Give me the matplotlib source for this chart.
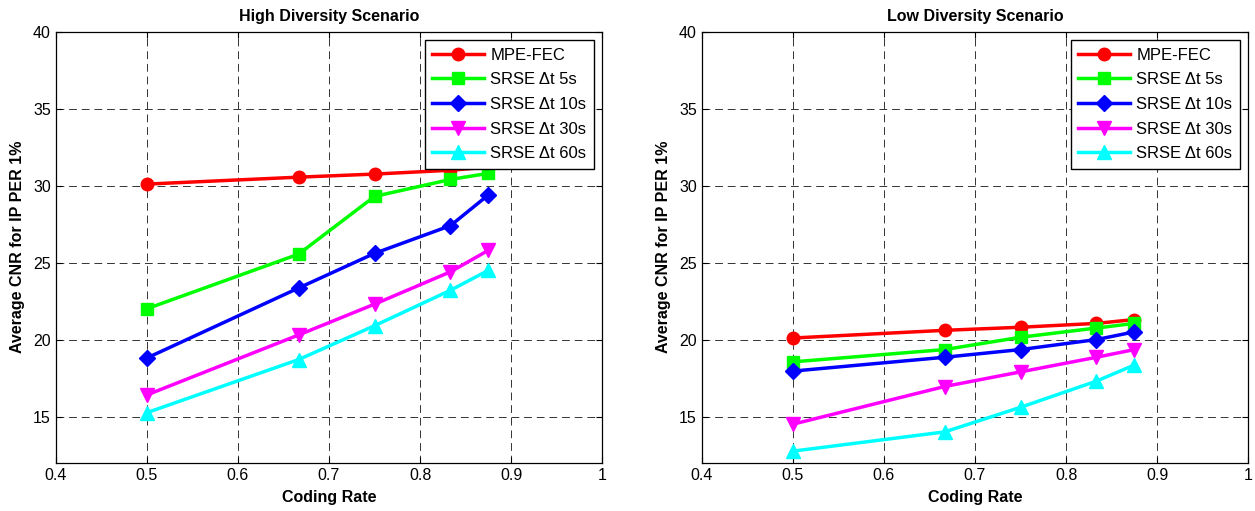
import matplotlib
matplotlib.use('Agg')
import numpy as np
import matplotlib.pyplot as plt

plt.rcParams['font.family'] = ['Liberation Sans', 'DejaVu Sans']

# coding rates
coding_rate = [0.5, 2/3, 0.75, 5/6, 0.875]

series_names = ["MPE-FEC", "SRSE \u0394t 5s", "SRSE \u0394t 10s", "SRSE \u0394t 30s", "SRSE \u0394t 60s"]

# High diversity scenario
high_mpe = [30.1, 30.55, 30.75, 31.0, 31.2]
high_5s = [22.0, 25.55, 29.3, 30.4, 30.8]
high_10s = [18.8, 23.35, 25.6, 27.4, 29.4]
high_30s = [16.4, 20.3, 22.3, 24.4, 25.8]
high_60s = [15.25, 18.7, 20.9, 23.2, 24.5]

# Low diversity scenario
low_mpe = [20.1, 20.6, 20.8, 21.05, 21.3]
low_5s = [18.55, 19.35, 20.15, 20.75, 21.05]
low_10s = [17.95, 18.85, 19.35, 20.0, 20.5]
low_30s = [14.5, 16.95, 17.9, 18.85, 19.35]
low_60s = [12.75, 14.0, 15.6, 17.3, 18.35]

colors = ['#ff0000', '#00ff00', '#0000ff', '#ff00ff', '#00ffff']
markers = ['o', 's', 'D', 'v', '^']
msizes = [9, 8.5, 8, 10, 10]

fig = plt.figure(figsize=(12.55, 5.11), dpi=100)
# axes placed by pixel: left panel 56..602, right panel 702..1248, y 32..463
ax_high = fig.add_axes([55.7 / 1255, 48.3 / 511, 546.6 / 1255, 431.0 / 511])
ax_low = fig.add_axes([701.7 / 1255, 48.3 / 511, 546.6 / 1255, 431.0 / 511])

panels = [
    (ax_high, "High Diversity Scenario", [high_mpe, high_5s, high_10s, high_30s, high_60s]),
    (ax_low, "Low Diversity Scenario", [low_mpe, low_5s, low_10s, low_30s, low_60s]),
]

for ax, title, data in panels:
    for vals, name, c, m, ms in zip(data, series_names, colors, markers, msizes):
        ax.plot(coding_rate, vals, color=c, marker=m, markersize=ms, linewidth=2.5,
                markeredgecolor=c, label=name)
    ax.set_xlim(0.4, 1.0)
    ax.set_ylim(12, 40)
    ax.set_xticks([0.4, 0.5, 0.6, 0.7, 0.8, 0.9, 1.0])
    ax.set_xticklabels(['0.4', '0.5', '0.6', '0.7', '0.8', '0.9', '1'])
    ax.set_yticks([15, 20, 25, 30, 35, 40])
    ax.tick_params(direction='in', top=True, right=True, labelsize=11.5, length=4, width=0.8)
    ax.grid(True, color='#333333', linestyle=(0, (8, 5)), linewidth=0.7)
    ax.set_axisbelow(True)
    for sp in ax.spines.values():
        sp.set_linewidth(0.9)
    ax.set_title(title, fontsize=11.5, fontweight='bold', pad=7.5)
    ax.set_xlabel("Coding Rate", fontsize=11.5, fontweight='bold', labelpad=5)
    ax.set_ylabel("Average CNR for IP PER 1%", fontsize=11.5, fontweight='bold', labelpad=6)
    leg = ax.legend(loc='upper right', fontsize=12, fancybox=False, framealpha=1,
                    edgecolor='black', handlelength=3.1, borderaxespad=0.5,
                    labelspacing=0.58, handletextpad=0.4, borderpad=0.45)
    leg.get_frame().set_linewidth(1.0)

fig.savefig('out.png', dpi=100)
